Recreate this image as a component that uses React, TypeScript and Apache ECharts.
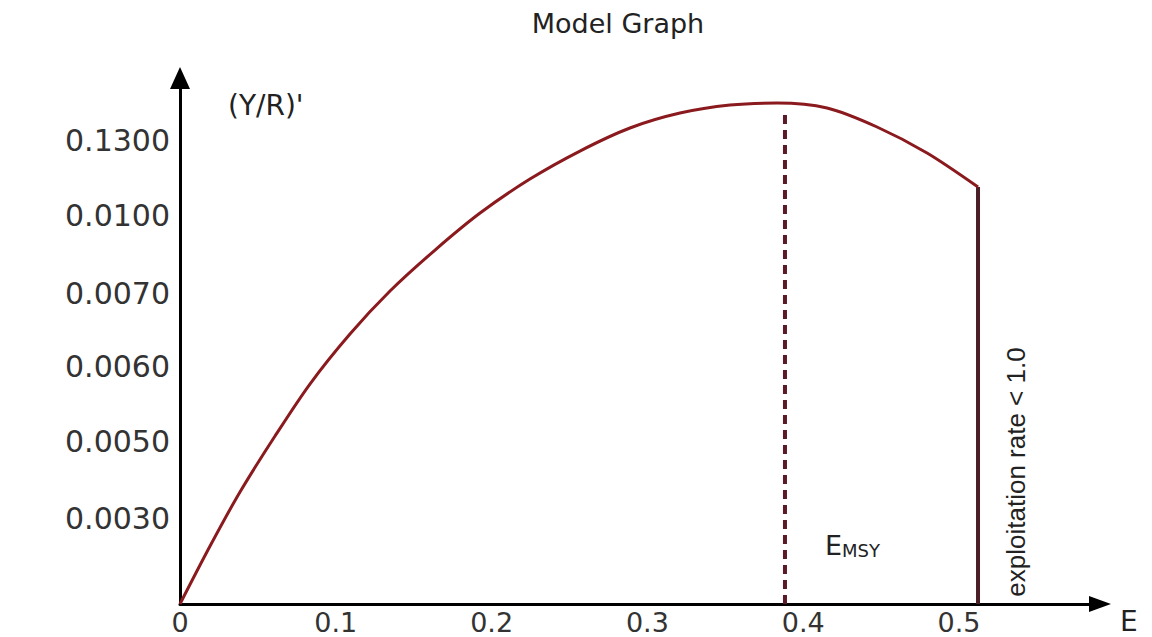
import React, { useEffect, useRef } from "react";
import * as echarts from "echarts";

// X axis: effort E; Y axis: label slots (the picture's y labels are equally spaced, non-linear values)
const xTickValues = [0, 0.1, 0.2, 0.3, 0.4, 0.5];
const yTickSlots = [1.12, 2.12, 3.1, 4.06, 5.08, 6.06];
const yTickLabels = ["0.0030", "0.0050", "0.0060", "0.0070", "0.0100", "0.1300"];

// Yield-per-recruit curve: E and height in label slots
const curveE = [0, 0.0193, 0.0385, 0.061, 0.0834, 0.1091, 0.1348, 0.1637, 0.1926, 0.2246, 0.2567, 0.2888, 0.3209, 0.353, 0.3832, 0.4153, 0.4474, 0.4795, 0.5122];
const curveY = [0, 0.757, 1.463, 2.194, 2.873, 3.526, 4.088, 4.623, 5.106, 5.55, 5.916, 6.217, 6.412, 6.517, 6.543, 6.478, 6.23, 5.89, 5.446];

const eMsy = 0.3883;
const eMsyTop = 6.425;
const eLimit = 0.5122;
const eLimitTop = 5.446;

export default function App() {
  const ref = useRef<HTMLDivElement>(null);

  useEffect(() => {
    if (!ref.current) return;
    const chart = echarts.init(ref.current, undefined, { renderer: "svg" });
    const font = "DejaVu Sans, Liberation Sans, Arial, sans-serif";
    const option: any = {
      animation: false,
      backgroundColor: "#ffffff",
      title: {
        text: "Model Graph",
        left: 613,
        textAlign: "center",
        top: 5,
        textStyle: { fontFamily: font, fontSize: 27, fontWeight: "normal", color: "#222" },
      },
      grid: { left: 180, right: 52, top: 78, bottom: 33, containLabel: false },
      xAxis: {
        type: "value",
        min: 0,
        max: 0.5905,
        name: "E",
        nameLocation: "end",
        nameGap: 20,
        nameTextStyle: {
          fontFamily: font,
          fontSize: 28,
          lineHeight: 28,
          color: "#222",
          align: "left",
          verticalAlign: "top",
          padding: [3, 0, 0, 0],
        },
        splitLine: { show: false },
        axisTick: { show: false },
        axisLine: {
          show: true,
          onZero: false,
          symbol: ["none", "triangle"],
          symbolSize: [16, 22],
          lineStyle: { color: "#000", width: 3 },
        },
        axisLabel: {
          customValues: xTickValues,
          fontFamily: font,
          fontSize: 27,
          lineHeight: 27,
          color: "#333",
          margin: 5,
          formatter: (v: number) => (v === 0 ? "0" : v.toFixed(1)),
        },
      },
      yAxis: {
        type: "value",
        min: 0,
        max: 6.87,
        name: "(Y/R)'",
        nameLocation: "end",
        nameGap: -27,
        nameTextStyle: { fontFamily: font, fontSize: 28, color: "#222", align: "left", verticalAlign: "middle", padding: [0, 0, 0, 48] },
        splitLine: { show: false },
        axisTick: { show: false },
        axisLine: {
          show: true,
          onZero: false,
          symbol: ["none", "triangle"],
          symbolSize: [20, 22],
          lineStyle: { color: "#000", width: 3 },
        },
        axisLabel: {
          customValues: yTickSlots,
          fontFamily: font,
          fontSize: 30,
          color: "#333",
          margin: 10,
          formatter: (v: number) => {
            let best = 0;
            for (let i = 1; i < yTickSlots.length; i++) {
              if (Math.abs(yTickSlots[i] - v) < Math.abs(yTickSlots[best] - v)) best = i;
            }
            return yTickLabels[best];
          },
        },
      },
      series: [
        {
          name: "Y/R",
          type: "line",
          smooth: 0.3,
          symbol: "none",
          data: curveE.map((e, i) => [e, curveY[i]]),
          lineStyle: { color: "#8a1a1e", width: 3 },
          z: 3,
        },
        {
          name: "Emsy",
          type: "line",
          symbol: "none",
          data: [[eMsy, 0], [eMsy, eMsyTop]],
          lineStyle: { color: "#5a1a26", width: 4, type: [9, 6] },
          z: 2,
        },
        {
          name: "limit",
          type: "line",
          symbol: "none",
          data: [[eLimit, 0], [eLimit, eLimitTop]],
          lineStyle: { color: "#4a1f26", width: 4 },
          z: 2,
        },
      ],
      graphic: [
        {
          type: "text",
          left: 825,
          top: 532,
          style: {
            text: "{a|E}{b|MSY}",
            rich: {
              a: { fontFamily: font, fontSize: 27, fill: "#222", verticalAlign: "bottom" },
              b: { fontFamily: font, fontSize: 18, fill: "#222", verticalAlign: "bottom" },
            },
          },
        },
        {
          type: "text",
          x: 1016,
          y: 472,
          rotation: Math.PI / 2,
          style: {
            text: "exploitation rate < 1.0",
            fontFamily: "Liberation Sans Narrow, Liberation Sans, Arial, sans-serif",
            fontSize: 26,
            fill: "#222",
            align: "center",
            verticalAlign: "middle",
          },
        },
      ],
    };
    chart.setOption(option);
    return () => chart.dispose();
  }, []);

  return (
    <div
      ref={ref}
      style={{ position: "fixed", left: 0, top: 0, width: "1152px", height: "637px", background: "#fff" }}
    />
  );
}
